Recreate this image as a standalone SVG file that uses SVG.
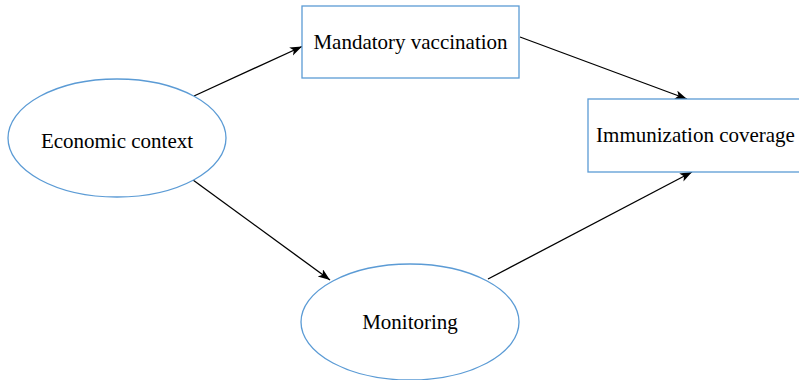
<svg xmlns="http://www.w3.org/2000/svg" width="799" height="380" viewBox="0 0 799 380">
<defs>
<style>
.node{fill:#fff;stroke:#5B9BD5;stroke-width:1.3}
.lbl{font-family:"Liberation Serif","Times New Roman",serif;font-size:21px;fill:#000;text-anchor:middle}
.edge{stroke:#000;stroke-width:1.3;fill:none;marker-end:url(#arr)}
</style>
<marker id="arr" markerUnits="userSpaceOnUse" markerWidth="13" markerHeight="10" refX="12" refY="4.5" orient="auto">
<path d="M0,0 L12,4.5 L0,9 L3,4.5 z" fill="#000"/>
</marker>
</defs>
<rect width="799" height="380" fill="#fff"/>
<g id="connectors">
<line class="edge" x1="194" y1="96" x2="302" y2="46.5"/>
<line class="edge" x1="193" y1="180" x2="330" y2="280"/>
<line class="edge" x1="520" y1="37" x2="687" y2="99"/>
<line class="edge" x1="488" y1="279" x2="692" y2="172"/>
</g>
<g id="economic-context">
<ellipse class="node" cx="117" cy="138" rx="109" ry="59"/>
<text class="lbl" x="117" y="148">Economic context</text>
</g>
<g id="mandatory-vaccination">
<rect class="node" x="302" y="6" width="217" height="72"/>
<text class="lbl" x="410.5" y="49">Mandatory vaccination</text>
</g>
<g id="immunization-coverage">
<rect class="node" x="588" y="99" width="216" height="73"/>
<text class="lbl" x="695.5" y="142">Immunization coverage</text>
</g>
<g id="monitoring">
<ellipse class="node" cx="410" cy="322" rx="109" ry="58"/>
<text class="lbl" x="410" y="329">Monitoring</text>
</g>
</svg>
